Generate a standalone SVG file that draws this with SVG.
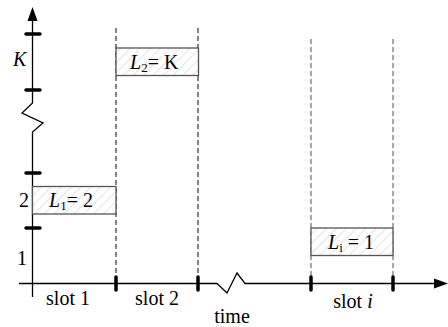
<svg xmlns="http://www.w3.org/2000/svg" width="448" height="327" viewBox="0 0 448 327">
<style>
.axis{stroke:#000;stroke-width:1.3;fill:none}
.tick{stroke:#000;stroke-width:3.5;stroke-linecap:round}
.dash{stroke:#222;stroke-width:1.1;stroke-dasharray:5,3;fill:none}
.dashg{stroke:#777;stroke-width:1.3;stroke-dasharray:5,3;fill:none}
.box{fill:url(#hatch);stroke:#555;stroke-width:1.3}
text{font-family:"Liberation Serif","Times New Roman",serif;font-size:20px;fill:#000}
.it{font-style:italic}
</style>
<defs>
<pattern id="hatch" patternUnits="userSpaceOnUse" width="7" height="7" patternTransform="rotate(45)">
<rect width="7" height="7" fill="#fff"/>
<line x1="0" y1="0" x2="0" y2="7" stroke="#d0d0d0" stroke-width="1.2"/>
</pattern>
</defs>
<g id="connectors">
<polyline class="axis" points="32.5,20 32.5,103 22,113 43,123 32.5,132 32.5,297"/>
<polygon points="32.5,7 27.5,21 37.5,21" fill="#000"/>
<polyline class="axis" points="19,283.5 217,283.5 227,293 237,273 245,283.5 435,283.5"/>
<polygon points="448,283.5 434,278.5 434,288.5" fill="#000"/>
<line class="tick" x1="26" y1="34" x2="40" y2="34"/>
<line class="tick" x1="26" y1="90" x2="40" y2="90"/>
<line class="tick" x1="26" y1="173" x2="40" y2="173"/>
<line class="tick" x1="26" y1="228" x2="40" y2="228"/>
<line class="dash" x1="116" y1="28" x2="116" y2="278"/>
<line class="dash" x1="198" y1="28" x2="198" y2="278"/>
<line class="dashg" x1="311" y1="39" x2="311" y2="278"/>
<line class="dashg" x1="393" y1="39" x2="393" y2="278"/>
<line class="tick" x1="116" y1="277" x2="116" y2="290"/>
<line class="tick" x1="198" y1="277" x2="198" y2="290"/>
<line class="tick" x1="311" y1="277" x2="311" y2="290"/>
<line class="tick" x1="393" y1="277" x2="393" y2="290"/>
</g>
<g id="labels">
<text x="13" y="66" class="it">K</text>
<text x="19" y="207">2</text>
<text x="17" y="265">1</text>
<text x="68" y="305" text-anchor="middle">slot 1</text>
<text x="157" y="305" text-anchor="middle">slot 2</text>
<text x="232" y="323" text-anchor="middle">time</text>
<text x="353" y="308" text-anchor="middle">slot <tspan class="it">i</tspan></text>
</g>
<g id="L1">
<rect class="box" x="32.5" y="186.5" width="83.5" height="27.5"/>
<text x="49" y="207"><tspan class="it">L</tspan><tspan font-size="13" dy="3">1</tspan><tspan dy="-3">= 2</tspan></text>
</g>
<g id="L2">
<rect class="box" x="116" y="48" width="82.5" height="27.5"/>
<text x="130" y="69"><tspan class="it">L</tspan><tspan font-size="13" dy="3">2</tspan><tspan dy="-3">= K</tspan></text>
</g>
<g id="Li">
<rect class="box" x="311" y="228" width="82" height="27.5"/>
<text x="328" y="249"><tspan class="it">L</tspan><tspan font-size="13" dy="3">i</tspan><tspan dy="-3"> = 1</tspan></text>
</g>
</svg>
